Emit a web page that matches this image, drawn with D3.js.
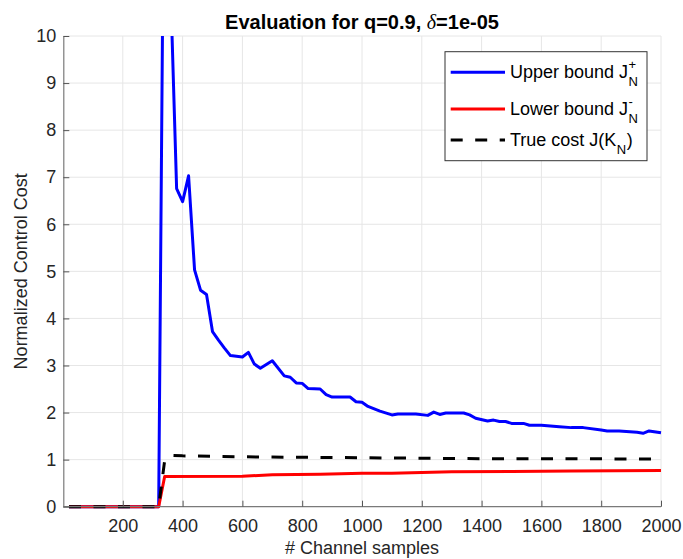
<!DOCTYPE html>
<html>
<head>
<meta charset="utf-8">
<script src="https://cdn.jsdelivr.net/npm/d3@7"></script>
<style>
  body { margin: 0; background: #fff; }
  svg { display: block; font-family: "Liberation Sans", Arial, Helvetica, sans-serif; }
</style>
</head>
<body>
<svg id="chart" width="683" height="559"></svg>
<script>
// values
var upperN = [20, 320, 340, 360, 380, 400, 420, 440, 460, 480, 500, 520, 540, 560, 600, 620, 640, 660, 700, 740, 760, 780, 800, 820, 860, 880, 900, 960, 980, 1000, 1020, 1060, 1100, 1120, 1180, 1220, 1240, 1260, 1280, 1340, 1360, 1380, 1420, 1440, 1460, 1480, 1500, 1540, 1560, 1600, 1620, 1660, 1700, 1740, 1800, 1820, 1860, 1920, 1940, 1960, 2000];
var upperJ = [0, 0, 15.9, 11.0, 6.76, 6.48, 7.03, 5.03, 4.60, 4.51, 3.72, 3.54, 3.37, 3.21, 3.18, 3.28, 3.03, 2.94, 3.10, 2.78, 2.75, 2.63, 2.62, 2.51, 2.50, 2.38, 2.33, 2.33, 2.23, 2.22, 2.13, 2.03, 1.95, 1.97, 1.97, 1.94, 2.01, 1.96, 1.99, 1.99, 1.95, 1.88, 1.82, 1.84, 1.81, 1.81, 1.77, 1.77, 1.73, 1.73, 1.72, 1.70, 1.68, 1.68, 1.63, 1.61, 1.61, 1.58, 1.56, 1.61, 1.57];

var lowerN = [20, 320, 340, 600, 700, 860, 1000, 1100, 1300, 1500, 1700, 2000];
var lowerJ = [0, 0, 0.64, 0.645, 0.68, 0.69, 0.71, 0.71, 0.74, 0.75, 0.76, 0.77];

var trueN = [20, 320, 340, 360, 400, 600, 800, 1000, 1200, 1400, 1700, 2000];
var trueJ = [0, 0, 0.98, 1.09, 1.08, 1.06, 1.05, 1.04, 1.03, 1.02, 1.02, 1.01];

var xTicks = [200, 400, 600, 800, 1000, 1200, 1400, 1600, 1800, 2000];
var yTicks = [0, 1, 2, 3, 4, 5, 6, 7, 8, 9, 10];

var svg = d3.select("#chart");
var x = d3.scaleLinear().domain([1, 2000]).range([63.3, 661]);
var y = d3.scaleLinear().domain([0, 10]).range([506.7, 36]);

svg.append("rect").attr("width", 683).attr("height", 559).attr("fill", "#fff");

// grid
svg.append("g").selectAll("line.gx")
    .data(xTicks)
    .enter()
    .append("line")
    .attr("x1", function (d) {return x(d);})
    .attr("x2", function (d) {return x(d);})
    .attr("y1", y(0)).attr("y2", y(10))
    .attr("stroke", "#e6e6e6").attr("stroke-width", 1);

svg.append("g").selectAll("line.gy")
    .data(yTicks.filter(function (d) {return d > 0;}))
    .enter()
    .append("line")
    .attr("y1", function (d) {return y(d);})
    .attr("y2", function (d) {return y(d);})
    .attr("x1", x.range()[0]).attr("x2", x.range()[1])
    .attr("stroke", "#e6e6e6").attr("stroke-width", 1);

// lines, clipped at the top of the axes
svg.append("clipPath").attr("id", "plotclip")
    .append("rect")
    .attr("x", x.range()[0] - 4).attr("y", y(10))
    .attr("width", x.range()[1] - x.range()[0] + 8)
    .attr("height", y(0) - y(10) + 5);

var plot = svg.append("g").attr("clip-path", "url(#plotclip)");

function pairs(ns, js) {
    return ns.map(function (n, i) {return [n, js[i]];});
}
var line = d3.line()
    .x(function (d) {return x(d[0]);})
    .y(function (d) {return y(d[1]);});

var series = [
    {name: "upper", pts: pairs(upperN, upperJ), color: "#0000ff", dash: null},
    {name: "lower", pts: pairs(lowerN, lowerJ), color: "#ff0000", dash: null},
    {name: "true", pts: pairs(trueN, trueJ), color: "#000000", dash: "12,12.5"}
];

plot.selectAll("path.series")
    .data(series)
    .enter()
    .append("path")
    .attr("class", "series")
    .attr("d", function (d) {return line(d.pts);})
    .attr("fill", "none")
    .attr("stroke", function (d) {return d.color;})
    .attr("stroke-width", 3)
    .attr("stroke-linejoin", "round")
    .attr("stroke-dasharray", function (d) {return d.dash;});

// axes
var xAxis = d3.axisBottom(x).tickValues(xTicks).tickFormat(d3.format("d"))
    .tickSize(-6).tickSizeOuter(0).tickPadding(13);
var yAxis = d3.axisLeft(y).tickValues(yTicks).tickFormat(d3.format("d"))
    .tickSize(-6).tickSizeOuter(0).tickPadding(7);

var gx = svg.append("g").attr("transform", "translate(0," + y(0) + ")").call(xAxis);
var gy = svg.append("g").attr("transform", "translate(" + x.range()[0] + ",0)").call(yAxis);

[gx, gy].forEach(function (g) {
    g.select(".domain").attr("stroke", "#7a7a7a").attr("stroke-width", 1.2);
    g.selectAll(".tick line").attr("stroke", "#555").attr("stroke-width", 1);
    g.selectAll(".tick text")
        .attr("fill", "#262626")
        .style("font-size", "18px")
        .style("font-family", "'Liberation Sans', Arial, sans-serif");
});
gx.select(".domain").attr("d", "M" + x.range()[0] + ",0H" + x.range()[1]);

// labels
svg.append("text")
    .attr("x", 362).attr("y", 28.5)
    .attr("text-anchor", "middle")
    .style("font-size", "20px").style("font-weight", "bold")
    .attr("fill", "#000")
    .text("Evaluation for q=0.9, ")
    .append("tspan")
    .style("font-family", "'Liberation Serif', 'DejaVu Serif', serif")
    .style("font-style", "italic").style("font-weight", "normal")
    .text("δ")
    .select(function () {return this.parentNode;})
    .append("tspan")
    .text("=1e-05");

svg.append("text")
    .attr("x", 362).attr("y", 554)
    .attr("text-anchor", "middle")
    .style("font-size", "18px").attr("fill", "#262626")
    .text("# Channel samples");

svg.append("text")
    .attr("transform", "translate(26.5," + ((y(0) + y(10)) / 2) + ") rotate(-90)")
    .attr("text-anchor", "middle")
    .style("font-size", "18px").attr("fill", "#262626")
    .text("Normalized Control Cost");

// legend
var legend = svg.append("g");
legend.append("rect")
    .attr("x", 445).attr("y", 51.7).attr("width", 202).attr("height", 109)
    .attr("fill", "#fff").attr("stroke", "#333").attr("stroke-width", 1);

var legendRows = [
    {s: series[0], ly: 72.3, base: "Upper bound J", sup: "+", sub: "N", tail: ""},
    {s: series[1], ly: 109, base: "Lower bound J", sup: "-", sub: "N", tail: ""},
    {s: series[2], ly: 140, base: "True cost J(K", sup: null, sub: "N", tail: ")"}
];

legendRows.forEach(function (r) {
    legend.append("line")
        .attr("x1", 450.7).attr("x2", 505)
        .attr("y1", r.ly).attr("y2", r.ly)
        .attr("stroke", r.s.color).attr("stroke-width", 3)
        .attr("stroke-dasharray", r.s.dash);
    var by = r.ly + 6;
    var t = legend.append("text")
        .attr("x", 510).attr("y", by)
        .style("font-size", "18px").attr("fill", "#000")
        .text(r.base);
    var w = t.node().getComputedTextLength();
    var sx = 510 + w + 0.5;
    if (r.sup) {
        legend.append("text")
            .attr("x", sx).attr("y", by - 9)
            .style("font-size", "13px").attr("fill", "#000")
            .text(r.sup);
    }
    var st = legend.append("text")
        .attr("x", sx).attr("y", by + 8)
        .style("font-size", "13px").attr("fill", "#000")
        .text(r.sub);
    var subW = st.node().getComputedTextLength();
    if (r.tail) {
        legend.append("text")
            .attr("x", sx + subW + 0.5).attr("y", by)
            .style("font-size", "18px").attr("fill", "#000")
            .text(r.tail);
    }
});
</script>
</body>
</html>
